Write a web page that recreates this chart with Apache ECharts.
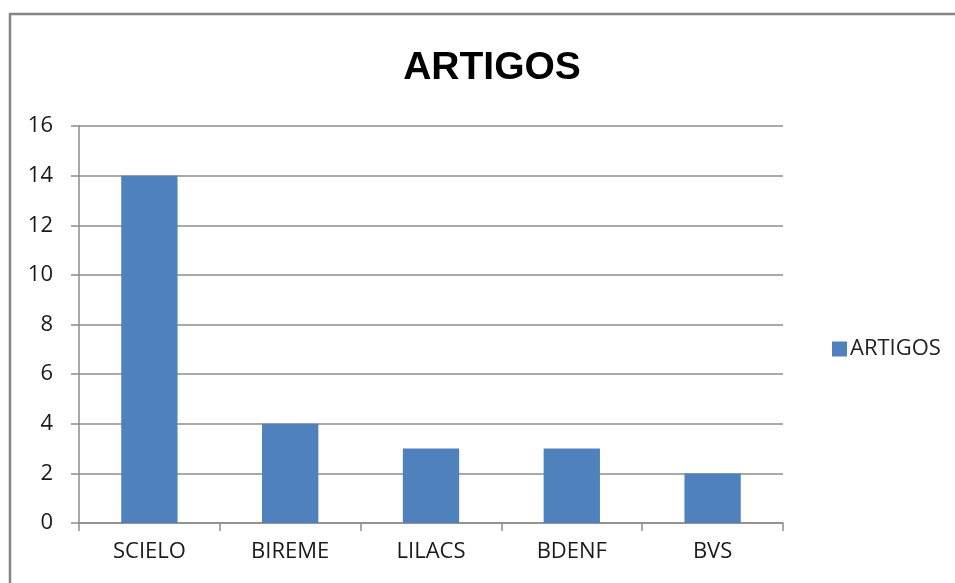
<!DOCTYPE html>
<html>
<head>
<meta charset="utf-8">
<script src="https://cdn.jsdelivr.net/npm/echarts@6/dist/echarts.min.js"></script>
<style>html,body{margin:0;padding:0;background:#fff}#c{width:955px;height:583px}</style>
</head>
<body>
<div id="c"></div>
<script>
const categories = ['SCIELO', 'BIREME', 'LILACS', 'BDENF', 'BVS'];
const seriesName = 'ARTIGOS';
const values = [14, 4, 3, 3, 2];
const titleText = 'ARTIGOS';

const chart = echarts.init(document.getElementById('c'));
chart.setOption({
  animation: false,
  backgroundColor: '#fff',
  graphic: [{
    type: 'rect',
    shape: { x: 10, y: 14, width: 1000, height: 700 },
    style: { fill: 'none', stroke: '#858585', lineWidth: 2.5 },
    silent: true
  }],
  title: {
    text: titleText,
    left: 487, top: 44, textAlign: 'center',
    textStyle: { fontFamily: 'Liberation Sans', fontWeight: 'bold', fontSize: 39, color: '#000' }
  },
  legend: {
    data: [seriesName],
    left: 827, top: 333,
    itemWidth: 15, itemHeight: 15, itemGap: 5,
    icon: 'rect',
    textStyle: { fontFamily: 'Open Sans', fontSize: 22, color: '#222', padding: [0, 0, 0, -2] }
  },
  grid: { left: 79, top: 126, right: 172, bottom: 60, containLabel: false },
  xAxis: {
    type: 'category',
    data: categories,
    boundaryGap: true,
    axisLine: { lineStyle: { color: '#8c8c8c', width: 1.5 } },
    axisTick: { show: true, length: 8, alignWithLabel: false, lineStyle: { color: '#8c8c8c', width: 1.5 } },
    axisLabel: { fontFamily: 'Open Sans', fontSize: 22, color: '#1a1a1a', margin: 18 }
  },
  yAxis: {
    type: 'value',
    min: 0, max: 16, interval: 2,
    axisLine: { show: true, lineStyle: { color: '#8c8c8c', width: 1.5 } },
    axisTick: { show: true, length: 8, lineStyle: { color: '#8c8c8c', width: 1.5 } },
    axisLabel: { fontFamily: 'Open Sans', fontSize: 22, color: '#1a1a1a', margin: 26 },
    splitLine: { show: true, lineStyle: { color: '#8c8c8c', width: 1.5 } }
  },
  series: [{
    name: seriesName,
    type: 'bar',
    data: values,
    barWidth: '40%',
    itemStyle: { color: '#4F81BD' }
  }]
});
</script>
</body>
</html>
